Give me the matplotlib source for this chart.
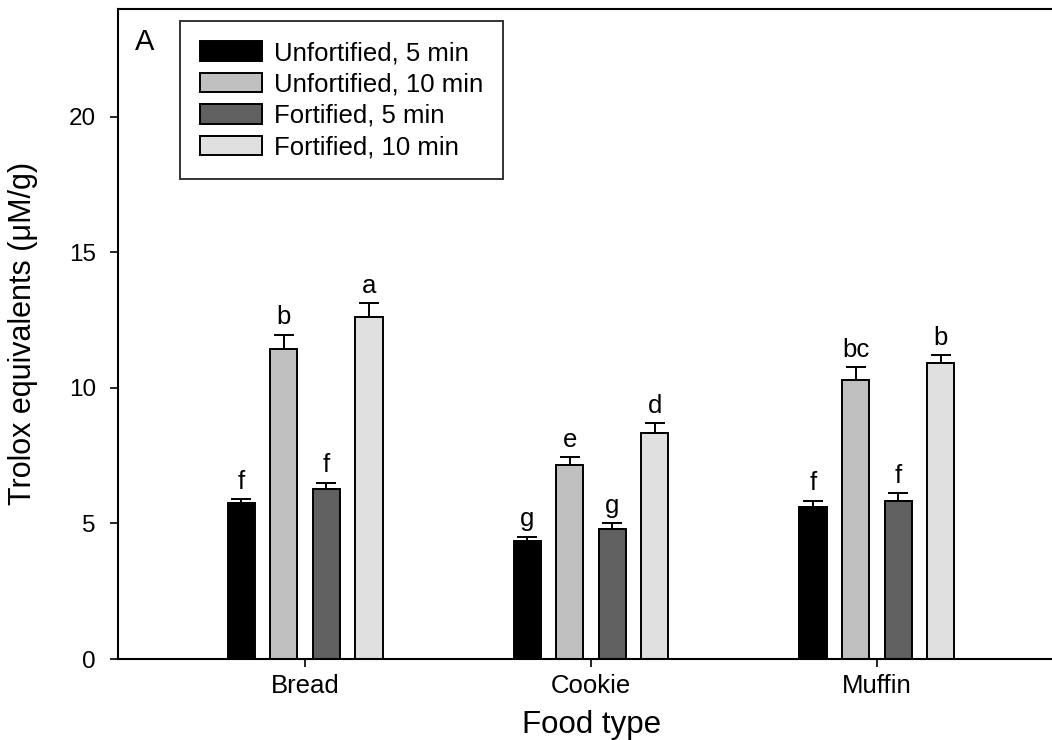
import numpy as np
import matplotlib
matplotlib.use("Agg")
import matplotlib.pyplot as plt

plt.rcParams['font.family'] = ['Liberation Sans', 'DejaVu Sans']

foods = ['Bread', 'Cookie', 'Muffin']
series = ['Unfortified, 5 min', 'Unfortified, 10 min', 'Fortified, 5 min', 'Fortified, 10 min']
colors = ['#000000', '#c0c0c0', '#606060', '#e0e0e0']

# mean values per series (Bread, Cookie, Muffin)
unfort_5 = [5.77, 4.34, 5.62]
unfort_10 = [11.44, 7.15, 10.31]
fort_5 = [6.27, 4.79, 5.83]
fort_10 = [12.61, 8.35, 10.91]

# upper error bars
unfort_5_err = [0.13, 0.17, 0.21]
unfort_10_err = [0.52, 0.30, 0.46]
fort_5_err = [0.23, 0.21, 0.28]
fort_10_err = [0.51, 0.35, 0.30]

# significance letters
unfort_5_lbl = ['f', 'g', 'f']
unfort_10_lbl = ['b', 'e', 'bc']
fort_5_lbl = ['f', 'g', 'f']
fort_10_lbl = ['a', 'd', 'b']

values = [unfort_5, unfort_10, fort_5, fort_10]
errors = [unfort_5_err, unfort_10_err, fort_5_err, fort_10_err]
letters = [unfort_5_lbl, unfort_10_lbl, fort_5_lbl, fort_10_lbl]

fig = plt.figure(figsize=(10.52, 7.4), dpi=100)
ax = fig.add_axes([118 / 1052, 81 / 740, 946 / 1052, 650.5 / 740])

x = np.arange(len(foods))
step = 0.149
width = 0.095
for j in range(len(series)):
    pos = x + (j - 1.5) * step
    v = np.array(values[j])
    e = np.array(errors[j])
    ax.bar(pos, v, width, color=colors[j], edgecolor='black', linewidth=1.4,
           label=series[j], zorder=2)
    ax.errorbar(pos, v, yerr=[np.zeros_like(e), e], fmt='none', ecolor='black',
                elinewidth=1.4, capsize=7, capthick=1.4, zorder=3)
    for k in range(len(foods)):
        ax.annotate(letters[j][k], (pos[k], v[k] + e[k]), xytext=(0, 4),
                    textcoords='offset points', ha='center', va='bottom', fontsize=18.5)

ax.set_xlim(-0.654, 2.654)
ax.set_ylim(0, 24)
ax.set_yticks([0, 5, 10, 15, 20])
ax.set_xticks(x)
ax.set_xticklabels(foods)
ax.tick_params(axis='both', direction='out', length=6, width=1.2)
ax.tick_params(axis='y', pad=10, labelsize=17.5)
ax.tick_params(axis='x', pad=5, labelsize=18.5)
ax.spines['right'].set_visible(False)
for s in ['left', 'bottom', 'top']:
    ax.spines[s].set_linewidth(1.5)

ax.set_xlabel('Food type', fontsize=22.5)
ax.set_ylabel('Trolox equivalents (\u03bcM/g)', fontsize=22)
ax.yaxis.set_label_coords(-0.085, 0.5)
ax.xaxis.set_label_coords((592 - 118) / 946, -0.078)

ax.text(135 / 1052, 1 - 50 / 740, 'A', transform=fig.transFigure, fontsize=21,
        ha='left', va='baseline')

leg = ax.legend(loc='upper left', bbox_to_anchor=(180 / 1052, 1 - 21 / 740),
                bbox_transform=fig.transFigure, fontsize=18.5, frameon=True,
                fancybox=False, handlelength=2.4, handleheight=0.78,
                handletextpad=0.47, labelspacing=0.29, borderpad=0.78,
                borderaxespad=0)
leg.get_frame().set_edgecolor('black')
leg.get_frame().set_linewidth(1.4)

fig.savefig('out.png', dpi=100)
